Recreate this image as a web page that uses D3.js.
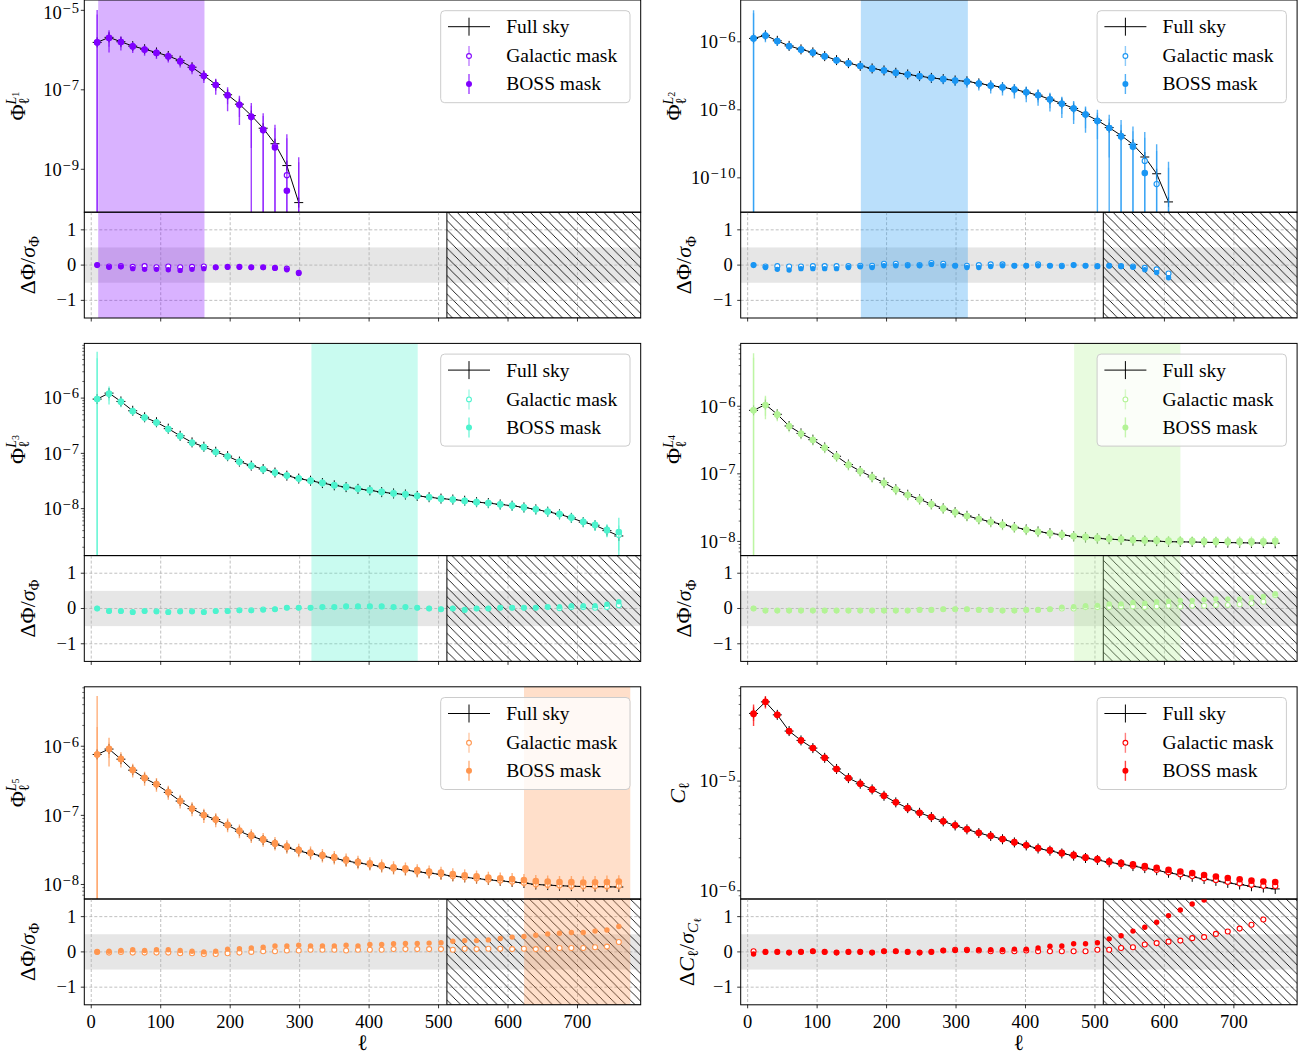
<!DOCTYPE html>
<html>
<head>
<meta charset="utf-8">
<script src="https://cdn.jsdelivr.net/npm/d3@7"></script>
<style>
  body { margin: 0; background: #fff; }
  svg { display: block; }
  text { font-family: "Liberation Serif", "DejaVu Serif", serif; fill: #000; }
</style>
</head>
<body>
<svg id="fig" width="1311" height="1055"></svg>
<script>
// Multipole bin centres (shared by every panel)
const ell = [8.5, 25.6, 42.7, 59.7, 76.8, 93.9, 110.9, 128.0, 145.1, 162.1,
  179.2, 196.3, 213.3, 230.4, 247.5, 264.5, 281.6, 298.7, 315.7, 332.8,
  349.9, 366.9, 384.0, 401.1, 418.1, 435.2, 452.3, 469.3, 486.4, 503.5,
  520.5, 537.6, 554.7, 571.7, 588.8, 605.9, 622.9, 640.0, 657.1, 674.1,
  691.2, 708.3, 725.3, 742.4, 759.5];

const xTicks = [0, 100, 200, 300, 400, 500, 600, 700];
const resTicks = [-1, 0, 1];
const seriesNames = ["Full sky", "Galactic mask", "BOSS mask"];
const ellMaxTrusted = 512;

// ---- Phi^{L1} ----
const phiL1 = [1.56e-6, 2.09e-6, 1.62e-6, 1.26e-6, 1.05e-6, 8.7e-7, 7.1e-7, 5.4e-7, 3.7e-7, 2.3e-7,
  1.36e-7, 7.5e-8, 4.35e-8, 2.25e-8, 1.08e-8, 4.4e-9, 1.24e-9, 1.45e-10];
const resGalL1 = [0.0, -0.04, -0.03, -0.05, -0.03, -0.06, -0.04, -0.06, -0.05, -0.04,
  -0.06, -0.05, -0.05, -0.06, -0.06, -0.08, -0.1, -0.22];
const resBossL1 = [0.0, -0.06, -0.05, -0.1, -0.12, -0.12, -0.13, -0.15, -0.12, -0.1,
  -0.07, -0.06, -0.06, -0.07, -0.07, -0.09, -0.13, -0.24];
const errGalL1 = [4.0, 0.4, 0.28, 0.2, 0.18, 0.18, 0.18, 0.18, 0.2, 0.22,
  0.3, 0.4, 0.5, 0.8, 1.1, 1.6, 4.3, 12];
const errBossL1 = [5.5, 0.55, 0.38, 0.3, 0.28, 0.28, 0.28, 0.28, 0.3, 0.32,
  0.42, 0.58, 0.66, 1.15, 1.5, 2.2, 5.9, 17];

// ---- Phi^{L2} ----
const phiL2 = [1.26e-6, 1.55e-6, 1.07e-6, 7.6e-7, 6.0e-7, 4.9e-7, 3.8e-7, 2.9e-7, 2.36e-7, 1.96e-7,
  1.65e-7, 1.44e-7, 1.23e-7, 1.10e-7, 9.8e-8, 8.7e-8, 8.0e-8, 7.3e-8, 6.9e-8, 6.0e-8,
  5.2e-8, 4.6e-8, 4.0e-8, 3.3e-8, 2.7e-8, 2.05e-8, 1.54e-8, 1.10e-8, 7.4e-9, 4.9e-9,
  3.0e-9, 1.77e-9, 9.6e-10, 4.1e-10, 1.32e-10, 1.96e-11];
const resGalL2 = [0, -0.04, -0.03, -0.04, -0.04, -0.03, -0.03, -0.03, -0.03, -0.02,
  -0.02, 0.04, 0.04, 0.0, 0.0, 0.06, 0.04, -0.02, -0.02, 0.0,
  0.02, 0.02, -0.02, -0.02, 0.02, -0.02, -0.02, 0.0, -0.02, -0.03,
  -0.02, -0.03, -0.04, -0.08, -0.12, -0.24];
const resBossL2 = [0, -0.07, -0.12, -0.14, -0.1, -0.1, -0.1, -0.1, -0.07, -0.05,
  -0.07, -0.02, -0.02, -0.02, -0.02, 0.02, -0.02, -0.02, -0.07, -0.07,
  -0.04, -0.02, -0.02, -0.02, -0.02, -0.02, -0.04, 0.0, -0.02, -0.04,
  -0.02, -0.04, -0.06, -0.13, -0.21, -0.36];
const errGalL2 = [4.5, 0.25, 0.18, 0.15, 0.14, 0.13, 0.13, 0.13, 0.13, 0.13,
  0.13, 0.14, 0.15, 0.16, 0.17, 0.18, 0.2, 0.22, 0.24, 0.26,
  0.28, 0.3, 0.33, 0.36, 0.4, 0.45, 0.5, 0.55, 0.6, 0.7,
  0.85, 1.1, 1.5, 2.9, 4.2, 12];
const errBossL2 = [5.7, 0.35, 0.26, 0.22, 0.2, 0.19, 0.19, 0.19, 0.19, 0.19,
  0.19, 0.2, 0.21, 0.22, 0.24, 0.26, 0.28, 0.3, 0.33, 0.36,
  0.4, 0.42, 0.45, 0.48, 0.5, 0.55, 0.6, 0.65, 0.7, 1.1,
  1.4, 1.9, 2.5, 5.1, 8, 22];

// ---- Phi^{L3} ----
const phiL3 = [9.6e-7, 1.23e-6, 8.7e-7, 5.9e-7, 4.5e-7, 3.66e-7, 2.8e-7, 2.08e-7, 1.58e-7, 1.32e-7,
  1.07e-7, 8.9e-8, 7.1e-8, 6.0e-8, 5.2e-8, 4.5e-8, 3.95e-8, 3.5e-8, 3.2e-8, 2.9e-8,
  2.64e-8, 2.45e-8, 2.28e-8, 2.14e-8, 1.99e-8, 1.88e-8, 1.80e-8, 1.70e-8, 1.61e-8, 1.52e-8,
  1.46e-8, 1.39e-8, 1.31e-8, 1.26e-8, 1.19e-8, 1.13e-8, 1.05e-8, 9.7e-9, 8.8e-9, 7.9e-9,
  6.8e-9, 5.7e-9, 5.0e-9, 4.0e-9, 3.2e-9];
const resGalL3 = [0, -0.07, -0.07, -0.1, -0.07, -0.08, -0.1, -0.08, -0.08, -0.1,
  -0.07, -0.07, -0.05, -0.05, -0.03, -0.02, 0.02, 0.02, 0.02, 0.04,
  0.04, 0.06, 0.06, 0.06, 0.06, 0.04, 0.04, 0.02, 0.0, -0.02,
  0.0, -0.04, 0.0, 0.0, 0.02, 0.02, 0.02, 0.02, 0.04, 0.01,
  0.04, 0.04, 0.02, 0.04, 0.09];
const resBossL3 = [0, -0.08, -0.08, -0.11, -0.08, -0.09, -0.11, -0.09, -0.09, -0.11,
  -0.08, -0.08, -0.06, -0.06, -0.04, -0.02, 0.02, 0.02, 0.02, 0.04,
  0.04, 0.06, 0.06, 0.06, 0.06, 0.04, 0.04, 0.02, 0.0, -0.02,
  0.0, -0.04, 0.0, 0.0, 0.02, 0.02, 0.02, 0.02, 0.04, 0.05,
  0.08, 0.08, 0.08, 0.12, 0.19];
const errGalL3 = [4.5, 0.25, 0.14, 0.12, 0.11, 0.1, 0.1, 0.1, 0.1, 0.1,
  0.1, 0.1, 0.1, 0.1, 0.1, 0.1, 0.1, 0.1, 0.1, 0.1,
  0.1, 0.1, 0.1, 0.1, 0.1, 0.1, 0.1, 0.1, 0.1, 0.1,
  0.1, 0.1, 0.11, 0.11, 0.12, 0.12, 0.13, 0.14, 0.15, 0.16,
  0.17, 0.18, 0.2, 0.24, 0.5];
const errBossL3 = [6.2, 0.35, 0.2, 0.17, 0.16, 0.16, 0.16, 0.16, 0.16, 0.16,
  0.16, 0.16, 0.16, 0.16, 0.16, 0.16, 0.16, 0.16, 0.16, 0.16,
  0.16, 0.16, 0.16, 0.16, 0.17, 0.17, 0.17, 0.17, 0.17, 0.17,
  0.18, 0.18, 0.18, 0.19, 0.19, 0.2, 0.2, 0.2, 0.2, 0.2,
  0.2, 0.21, 0.23, 0.27, 0.95];

// ---- Phi^{L4} ----
const phiL4 = [8.7e-7, 1.06e-6, 7.6e-7, 5.1e-7, 3.96e-7, 3.2e-7, 2.45e-7, 1.82e-7, 1.37e-7, 1.10e-7,
  9.0e-8, 7.4e-8, 5.9e-8, 4.9e-8, 4.2e-8, 3.56e-8, 3.08e-8, 2.7e-8, 2.39e-8, 2.15e-8,
  1.95e-8, 1.78e-8, 1.62e-8, 1.50e-8, 1.40e-8, 1.32e-8, 1.25e-8, 1.19e-8, 1.15e-8, 1.11e-8,
  1.08e-8, 1.06e-8, 1.03e-8, 1.02e-8, 1.01e-8, 9.9e-9, 9.85e-9, 9.8e-9, 9.7e-9, 9.65e-9,
  9.6e-9, 9.55e-9, 9.5e-9, 9.45e-9, 9.4e-9];
const resGalL4 = [0, -0.06, -0.06, -0.06, -0.06, -0.06, -0.06, -0.06, -0.06, -0.06,
  -0.06, -0.06, -0.06, -0.06, -0.04, -0.04, -0.02, -0.02, -0.02, -0.04,
  -0.04, -0.06, -0.06, -0.04, -0.04, -0.02, 0.0, 0.0, 0.04, 0.04,
  0.04, 0.06, 0.06, 0.04, 0.06, 0.08, 0.06, 0.08, 0.08, 0.1,
  0.1, 0.12, 0.15, 0.19, 0.38];
const resBossL4 = [0, -0.06, -0.06, -0.06, -0.06, -0.06, -0.06, -0.06, -0.06, -0.06,
  -0.06, -0.06, -0.06, -0.06, -0.04, -0.04, -0.02, -0.02, -0.02, -0.04,
  -0.04, -0.06, -0.06, -0.04, -0.04, -0.02, 0.04, 0.05, 0.08, 0.09,
  0.13, 0.13, 0.17, 0.15, 0.19, 0.21, 0.23, 0.23, 0.25, 0.27,
  0.27, 0.27, 0.31, 0.34, 0.42];
const errGalL4 = [5.0, 0.3, 0.14, 0.12, 0.11, 0.1, 0.1, 0.1, 0.1, 0.1,
  0.1, 0.1, 0.1, 0.1, 0.1, 0.1, 0.1, 0.1, 0.1, 0.1,
  0.1, 0.1, 0.1, 0.1, 0.1, 0.1, 0.1, 0.1, 0.1, 0.1,
  0.1, 0.1, 0.1, 0.1, 0.1, 0.11, 0.11, 0.11, 0.11, 0.11,
  0.12, 0.12, 0.12, 0.12, 0.13];
const errBossL4 = [6.0, 0.37, 0.2, 0.18, 0.17, 0.17, 0.17, 0.17, 0.17, 0.17,
  0.17, 0.17, 0.17, 0.17, 0.17, 0.17, 0.17, 0.17, 0.17, 0.17,
  0.17, 0.17, 0.17, 0.17, 0.17, 0.17, 0.17, 0.17, 0.17, 0.17,
  0.17, 0.17, 0.17, 0.17, 0.17, 0.18, 0.18, 0.18, 0.18, 0.18,
  0.18, 0.19, 0.19, 0.19, 0.2];

// ---- Phi^{L5} ----
const phiL5 = [7.6e-7, 9.1e-7, 6.5e-7, 4.5e-7, 3.45e-7, 2.8e-7, 2.15e-7, 1.61e-7, 1.25e-7, 1.01e-7,
  8.7e-8, 7.2e-8, 5.9e-8, 5.0e-8, 4.4e-8, 3.84e-8, 3.44e-8, 3.05e-8, 2.8e-8, 2.57e-8,
  2.4e-8, 2.2e-8, 2.05e-8, 1.94e-8, 1.81e-8, 1.69e-8, 1.62e-8, 1.53e-8, 1.46e-8, 1.40e-8,
  1.32e-8, 1.27e-8, 1.22e-8, 1.17e-8, 1.13e-8, 1.09e-8, 1.05e-8, 1.0e-8, 9.8e-9, 9.6e-9,
  9.45e-9, 9.35e-9, 9.3e-9, 9.25e-9, 9.2e-9];
const resGalL5 = [0, -0.02, 0, -0.02, -0.02, -0.02, -0.02, -0.04, -0.04, -0.06,
  -0.06, -0.04, -0.02, 0, 0.02, 0.02, 0.04, 0.04, 0.06, 0.06,
  0.06, 0.04, 0.06, 0.06, 0.06, 0.08, 0.08, 0.08, 0.08, 0.08,
  0.06, 0.09, 0.08, 0.09, 0.09, 0.08, 0.09, 0.08, 0.09, 0.11,
  0.11, 0.11, 0.13, 0.15, 0.28];
const resBossL5 = [0, 0.02, 0.04, 0.06, 0.04, 0.06, 0.06, 0.04, 0.02, 0,
  0.02, 0.08, 0.09, 0.11, 0.13, 0.17, 0.17, 0.19, 0.17, 0.17,
  0.17, 0.19, 0.17, 0.21, 0.21, 0.23, 0.24, 0.24, 0.25, 0.26,
  0.3, 0.32, 0.32, 0.34, 0.38, 0.42, 0.44, 0.47, 0.51, 0.53,
  0.55, 0.55, 0.59, 0.62, 0.72];
const errGalL5 = [1.5, 0.25, 0.13, 0.12, 0.12, 0.12, 0.12, 0.12, 0.12, 0.12,
  0.12, 0.12, 0.12, 0.12, 0.12, 0.12, 0.12, 0.12, 0.12, 0.12,
  0.12, 0.12, 0.12, 0.12, 0.12, 0.12, 0.12, 0.12, 0.12, 0.12,
  0.12, 0.12, 0.12, 0.12, 0.12, 0.12, 0.12, 0.12, 0.13, 0.13,
  0.13, 0.13, 0.14, 0.14, 0.14];
const errBossL5 = [6.0, 0.45, 0.25, 0.23, 0.23, 0.23, 0.23, 0.23, 0.23, 0.23,
  0.23, 0.23, 0.23, 0.23, 0.23, 0.23, 0.23, 0.23, 0.23, 0.23,
  0.23, 0.23, 0.23, 0.23, 0.23, 0.23, 0.23, 0.23, 0.23, 0.23,
  0.23, 0.23, 0.23, 0.23, 0.23, 0.24, 0.24, 0.25, 0.25, 0.25,
  0.26, 0.26, 0.27, 0.28, 0.28];

// ---- C_ell ----
const clFull = [4.14e-5, 5.28e-5, 4.02e-5, 2.86e-5, 2.35e-5, 2.0e-5, 1.63e-5, 1.29e-5, 1.065e-5, 9.46e-6,
  8.4e-6, 7.35e-6, 6.4e-6, 5.67e-6, 5.14e-6, 4.7e-6, 4.29e-6, 3.94e-6, 3.63e-6, 3.36e-6,
  3.16e-6, 2.95e-6, 2.76e-6, 2.59e-6, 2.43e-6, 2.32e-6, 2.19e-6, 2.09e-6, 1.99e-6, 1.91e-6,
  1.82e-6, 1.75e-6, 1.68e-6, 1.61e-6, 1.54e-6, 1.46e-6, 1.40e-6, 1.34e-6, 1.28e-6, 1.23e-6,
  1.18e-6, 1.14e-6, 1.10e-6, 1.07e-6, 1.04e-6];
const resGalCl = [0.02, 0, 0, -0.02, 0, 0.02, 0, -0.02, 0, 0,
  -0.02, 0.02, 0.02, 0, -0.02, 0, 0.04, 0.06, 0.06, 0.04,
  0.02, 0.02, 0.02, 0.04, 0.02, 0.02, 0.02, 0.02, 0.02, 0.06,
  0.06, 0.11, 0.13, 0.21, 0.25, 0.29, 0.32, 0.39, 0.42, 0.51,
  0.58, 0.66, 0.77, 0.92, 1.6];
const resBossCl = [-0.06, 0, 0, -0.02, 0, 0.02, 0, -0.02, 0, 0,
  -0.02, 0.02, 0.02, 0, -0.02, 0, 0.04, 0.04, 0.04, 0.06,
  0.06, 0.06, 0.08, 0.08, 0.11, 0.16, 0.17, 0.23, 0.23, 0.26,
  0.37, 0.46, 0.59, 0.7, 0.84, 1.03, 1.19, 1.36, 1.47, 1.62,
  1.78, 1.93, 2.08, 2.25, 2.6];
const errGalCl = [0.15, 0.1, 0.06, 0.05, 0.04, 0.04, 0.04, 0.04, 0.04, 0.04,
  0.04, 0.04, 0.04, 0.04, 0.04, 0.04, 0.04, 0.04, 0.04, 0.04,
  0.04, 0.04, 0.04, 0.04, 0.04, 0.04, 0.04, 0.04, 0.04, 0.04,
  0.04, 0.04, 0.04, 0.04, 0.04, 0.04, 0.04, 0.04, 0.04, 0.04,
  0.04, 0.04, 0.04, 0.04, 0.04];
const errBossCl = [0.22, 0.13, 0.08, 0.07, 0.07, 0.07, 0.07, 0.07, 0.07, 0.07,
  0.07, 0.07, 0.07, 0.07, 0.07, 0.07, 0.07, 0.07, 0.07, 0.07,
  0.07, 0.07, 0.07, 0.07, 0.07, 0.07, 0.07, 0.07, 0.07, 0.07,
  0.06, 0.06, 0.06, 0.06, 0.06, 0.06, 0.06, 0.06, 0.06, 0.06,
  0.06, 0.06, 0.06, 0.06, 0.06];

// Filter windows (ell ranges) highlighted in each panel
const bandL1 = [10, 163], bandL2 = [163, 317], bandL3 = [317, 470], bandL4 = [470, 623], bandL5 = [623, 776];

// ---------------- layout ----------------
const colX = [84.3, 740.7], colW = 556.4;
const rowTop = [0, 343.4, 686.8], mainH = 212.2, resH = 105.8;
const xDomain = [-10, 791];
const hatchPhase = [6.3, 2.0];

const panels = [
  {col: 0, row: 0, color: "#8000ff", full: phiL1, rg: resGalL1, rb: resBossL1, eg: errGalL1, eb: errBossL1, band: bandL1,
   ylog: [-10.08, -4.74], majors: [-9, -7, -5], minors: false, lab: "1", cl: false},
  {col: 1, row: 0, color: "#1a96f3", full: phiL2, rg: resGalL2, rb: resBossL2, eg: errGalL2, eb: errBossL2, band: bandL2,
   ylog: [-11.01, -4.77], majors: [-10, -8, -6], minors: false, lab: "2", cl: false},
  {col: 0, row: 1, color: "#4df3ce", full: phiL3, rg: resGalL3, rb: resBossL3, eg: errGalL3, eb: errBossL3, band: bandL3,
   ylog: [-8.85, -5.01], majors: [-8, -7, -6], minors: true, lab: "3", cl: false},
  {col: 1, row: 1, color: "#b3f396", full: phiL4, rg: resGalL4, rb: resBossL4, eg: errGalL4, eb: errBossL4, band: bandL4,
   ylog: [-8.21, -5.07], majors: [-8, -7, -6], minors: true, lab: "4", cl: false},
  {col: 0, row: 2, color: "#ff964f", full: phiL5, rg: resGalL5, rb: resBossL5, eg: errGalL5, eb: errBossL5, band: bandL5,
   ylog: [-8.21, -5.14], majors: [-8, -7, -6], minors: true, lab: "5", cl: false},
  {col: 1, row: 2, color: "#ff0000", full: clFull, rg: resGalCl, rb: resBossCl, eg: errGalCl, eb: errBossCl, band: null,
   ylog: [-6.075, -4.14], majors: [-6, -5], minors: true, lab: null, cl: true}
];

const svg = d3.select("#fig");
const defs = svg.append("defs");

// Typeset a small math expression from pieces; "stack" places a piece at the previous piece's x.
function mathPieces(parent, pieces) {
  const g = parent.append("g");
  let px = 0, pw = 0;
  pieces.forEach(p => {
    const xx = p.stack ? px : px + pw;
    const t = g.append("text").attr("x", xx).attr("y", p.dy || 0)
      .attr("font-size", p.fs).text(p.t);
    if (p.it) t.attr("font-style", "italic");
    px = xx; pw = t.node().getComputedTextLength();
  });
  return g;
}
// Rotated axis label: text baseline runs along screen x = bx, centred vertically on cy.
function rotatedLabel(parent, bx, cy, pieces) {
  const outer = parent.append("g").attr("transform", `translate(${bx},${cy}) rotate(-90)`);
  const inner = mathPieces(outer, pieces);
  const bb = inner.node().getBBox();
  inner.attr("transform", `translate(${-bb.x - bb.width / 2},0)`);
}

panels.forEach((P, pi) => {
  const x0 = colX[P.col], top = rowTop[P.row];
  const n = P.full.length;
  const L = ell.slice(0, n);
  const x = d3.scaleLinear().domain(xDomain).range([0, colW]);
  const y = d3.scaleLog().domain([Math.pow(10, P.ylog[0]), Math.pow(10, P.ylog[1])]).range([mainH, 0]);
  const yr = d3.scaleLinear().domain([-1.5, 1.5]).range([resH, 0]);

  const galV = P.full.map((v, i) => v * (1 + P.rg[i] * P.eg[i]));
  const galS = P.full.map((v, i) => v * P.eg[i]);
  const bossV = P.full.map((v, i) => v * (1 + P.rb[i] * P.eb[i]));
  const bossS = P.full.map((v, i) => v * P.eb[i]);

  defs.append("clipPath").attr("id", "cm" + pi).append("rect")
    .attr("width", colW).attr("height", mainH);
  defs.append("clipPath").attr("id", "cr" + pi).append("rect")
    .attr("width", colW).attr("height", resH);

  // ---------- main panel ----------
  const gm = svg.append("g").attr("transform", `translate(${x0},${top})`);
  const pm = gm.append("g").attr("clip-path", `url(#cm${pi})`);
  if (P.band) {
    pm.append("rect").attr("x", x(P.band[0])).attr("width", x(P.band[1]) - x(P.band[0]))
      .attr("y", 0).attr("height", mainH).attr("fill", P.color).attr("fill-opacity", 0.3);
  }
  // full-sky curve with cross markers (underneath the masked measurements)
  pm.append("path").attr("d", d3.line().x((v, i) => x(L[i])).y(v => y(v))(P.full))
    .attr("fill", "none").attr("stroke", "#000").attr("stroke-width", 1);
  const cross = pm.append("g").selectAll("g").data(P.full).join("g")
    .attr("transform", (v, i) => `translate(${x(L[i])},${y(v)})`);
  cross.append("line").attr("x1", -4.5).attr("x2", 4.5).attr("stroke", "#000").attr("stroke-width", 1);
  cross.append("line").attr("y1", -5).attr("y2", 5).attr("stroke", "#000").attr("stroke-width", 1);

  const yClamp = v => v > 0 ? y(v) : mainH + 20;
  function errBars(vals, sig, op) {
    pm.append("g").selectAll("line").data(L.map((l, i) => i).filter(i => vals[i] + sig[i] > 0)).join("line")
      .attr("x1", i => x(L[i])).attr("x2", i => x(L[i]))
      .attr("y1", i => yClamp(vals[i] - sig[i])).attr("y2", i => yClamp(vals[i] + sig[i]))
      .attr("stroke", P.color).attr("stroke-opacity", op).attr("stroke-width", 1.4);
  }
  errBars(galV, galS, 0.5);
  pm.append("g").selectAll("circle").data(L.map((l, i) => i).filter(i => galV[i] > 0)).join("circle")
    .attr("cx", i => x(L[i])).attr("cy", i => y(galV[i])).attr("r", 2.6)
    .attr("fill", "#fff").attr("stroke", P.color).attr("stroke-width", 1.1);
  errBars(bossV, bossS, 0.75);
  pm.append("g").selectAll("circle").data(L.map((l, i) => i).filter(i => bossV[i] > 0)).join("circle")
    .attr("cx", i => x(L[i])).attr("cy", i => y(bossV[i])).attr("r", 3.3)
    .attr("fill", P.color);

  // y axis of main panel
  const ax = gm.append("g");
  if (P.minors) {
    const mt = [];
    for (let k = Math.floor(P.ylog[0]); k <= Math.ceil(P.ylog[1]); k++) {
      for (let m = 2; m <= 9; m++) {
        const lv = k + Math.log10(m);
        if (lv > P.ylog[0] && lv < P.ylog[1]) mt.push(Math.pow(10, lv));
      }
    }
    ax.selectAll(".mn").data(mt).join("line").attr("x1", -2).attr("x2", 0)
      .attr("y1", v => y(v)).attr("y2", v => y(v)).attr("stroke", "#000").attr("stroke-width", 0.6);
  }
  P.majors.forEach(k => {
    const yy = y(Math.pow(10, k));
    ax.append("line").attr("x1", -3.5).attr("x2", 0).attr("y1", yy).attr("y2", yy)
      .attr("stroke", "#000").attr("stroke-width", 0.8);
    // keep the exponent of a label at the very top inside the figure
    const base = Math.max(yy + 6.3, 19 - top);
    const t = ax.append("text").attr("x", -4).attr("y", base).attr("text-anchor", "end").attr("font-size", 18.5);
    t.append("tspan").text("10");
    t.append("tspan").attr("dy", -6).attr("dx", 0.8).attr("font-size", 14.5)
      .attr("letter-spacing", 1.2).text("\u2212" + Math.abs(k));
  });
  gm.append("rect").attr("width", colW).attr("height", mainH).attr("fill", "none")
    .attr("stroke", "#000").attr("stroke-width", 1);

  // legend
  const lg = gm.append("g").attr("transform", `translate(356.4,10.7)`);
  lg.append("rect").attr("width", 189.3).attr("height", 92).attr("rx", 4)
    .attr("fill", "#fff").attr("fill-opacity", 0.8).attr("stroke", "#cccccc").attr("stroke-width", 1);
  const rowsY = [16, 45.3, 73.3];
  const hx = 28.3, tx = 65.5;
  lg.append("line").attr("x1", hx - 21).attr("x2", hx + 21).attr("y1", rowsY[0]).attr("y2", rowsY[0])
    .attr("stroke", "#000").attr("stroke-width", 1);
  lg.append("line").attr("x1", hx).attr("x2", hx).attr("y1", rowsY[0] - 9).attr("y2", rowsY[0] + 9)
    .attr("stroke", "#000").attr("stroke-width", 1);
  lg.append("line").attr("x1", hx).attr("x2", hx).attr("y1", rowsY[1] - 10).attr("y2", rowsY[1] + 10)
    .attr("stroke", P.color).attr("stroke-opacity", 0.5).attr("stroke-width", 1.4);
  lg.append("circle").attr("cx", hx).attr("cy", rowsY[1]).attr("r", 2.4)
    .attr("fill", "#fff").attr("stroke", P.color).attr("stroke-width", 1.1);
  lg.append("line").attr("x1", hx).attr("x2", hx).attr("y1", rowsY[2] - 10).attr("y2", rowsY[2] + 10)
    .attr("stroke", P.color).attr("stroke-opacity", 0.75).attr("stroke-width", 1.4);
  lg.append("circle").attr("cx", hx).attr("cy", rowsY[2]).attr("r", 3).attr("fill", P.color);
  seriesNames.forEach((s, i) => {
    lg.append("text").attr("x", tx).attr("y", rowsY[i] + 6.5).attr("font-size", 19.5).text(s);
  });

  // main y label
  if (P.cl) {
    rotatedLabel(svg, x0 - 56, top + mainH / 2, [
      {t: "C", fs: 22, it: true}, {t: "\u2113", fs: 15, dy: 4.5}]);
  } else {
    rotatedLabel(svg, x0 - 59.5, top + mainH / 2, [
      {t: "\u03A6", fs: 22}, {t: "\u2113", fs: 15, dy: 4.5},
      {t: "L", fs: 14, dy: -8.5, it: true, stack: true}, {t: P.lab, fs: 10, dy: -6}]);
  }

  // ---------- residual panel ----------
  const gr = svg.append("g").attr("transform", `translate(${x0},${top + mainH})`);
  const pr = gr.append("g").attr("clip-path", `url(#cr${pi})`);
  pr.append("rect").attr("x", 0).attr("width", colW).attr("y", yr(0.5)).attr("height", yr(-0.5) - yr(0.5))
    .attr("fill", "#e6e6e6");
  // dashed grid
  pr.append("g").selectAll("line").data(xTicks).join("line")
    .attr("x1", d => x(d)).attr("x2", d => x(d)).attr("y1", 0).attr("y2", resH)
    .attr("stroke", "#b0b0b0").attr("stroke-width", 0.8).attr("stroke-dasharray", "3,2");
  pr.append("g").selectAll("line").data(resTicks).join("line")
    .attr("x1", 0).attr("x2", colW).attr("y1", d => yr(d)).attr("y2", d => yr(d))
    .attr("stroke", "#b0b0b0").attr("stroke-width", 0.8).attr("stroke-dasharray", "3,2");
  // hatched region beyond the trusted multipole range
  const s = 9.17;
  const ph = (((hatchPhase[P.col] - x0 + (top + mainH)) % s) + s) % s;
  const pat = defs.append("pattern").attr("id", "hatch" + pi).attr("patternUnits", "userSpaceOnUse")
    .attr("x", ph).attr("y", 0).attr("width", s).attr("height", s);
  pat.append("path").attr("d", `M0,0L${s},${s}M-2,${s - 2}L2,${s + 2}M${s - 2},-2L${s + 2},2`)
    .attr("stroke", "#000").attr("stroke-width", 0.85).attr("fill", "none");
  pr.append("rect").attr("x", x(ellMaxTrusted)).attr("width", colW - x(ellMaxTrusted) + 2)
    .attr("y", 0).attr("height", resH).attr("fill", `url(#hatch${pi})`)
    .attr("stroke", "#000").attr("stroke-width", 1);
  if (P.band) {
    pr.append("rect").attr("x", x(P.band[0])).attr("width", x(P.band[1]) - x(P.band[0]))
      .attr("y", 0).attr("height", resH).attr("fill", P.color).attr("fill-opacity", 0.3);
  }
  pr.append("g").selectAll("circle").data(P.rg).join("circle")
    .attr("cx", (v, i) => x(L[i])).attr("cy", v => yr(v)).attr("r", 2.5)
    .attr("fill", "#fff").attr("stroke", P.color).attr("stroke-width", 1.1);
  pr.append("g").selectAll("circle").data(P.rb).join("circle")
    .attr("cx", (v, i) => x(L[i])).attr("cy", v => yr(v)).attr("r", 2.7)
    .attr("fill", P.color);

  // residual axes
  const ra = gr.append("g");
  resTicks.forEach(v => {
    ra.append("line").attr("x1", -3.5).attr("x2", 0).attr("y1", yr(v)).attr("y2", yr(v))
      .attr("stroke", "#000").attr("stroke-width", 0.8);
    ra.append("text").attr("x", -8).attr("y", yr(v) + 6).attr("text-anchor", "end")
      .attr("font-size", 18.5).text(v < 0 ? "\u2212" + Math.abs(v) : String(v));
  });
  xTicks.forEach(v => {
    ra.append("line").attr("x1", x(v)).attr("x2", x(v)).attr("y1", resH).attr("y2", resH + 3.5)
      .attr("stroke", "#000").attr("stroke-width", 0.8);
    if (P.row === 2) {
      ra.append("text").attr("x", x(v)).attr("y", resH + 23).attr("text-anchor", "middle")
        .attr("font-size", 18.5).text(v);
    }
  });
  gr.append("rect").attr("width", colW).attr("height", resH).attr("fill", "none")
    .attr("stroke", "#000").attr("stroke-width", 1);
  if (P.row === 2) {
    gr.append("text").attr("x", colW / 2).attr("y", resH + 45).attr("text-anchor", "middle")
      .attr("font-size", 22).text("\u2113");
  }

  if (P.cl) {
    rotatedLabel(svg, x0 - 47, top + mainH + resH / 2, [
      {t: "\u0394", fs: 22}, {t: "C", fs: 22, it: true}, {t: "\u2113", fs: 15, dy: 4.5},
      {t: "/", fs: 22}, {t: "\u03C3", fs: 22, it: true}, {t: "C", fs: 15, dy: 4.5, it: true},
      {t: "\u2113", fs: 10.5, dy: 7.5}]);
  } else {
    rotatedLabel(svg, x0 - 49.5, top + mainH + resH / 2, [
      {t: "\u0394\u03A6/", fs: 22}, {t: "\u03C3", fs: 22, it: true}, {t: "\u03A6", fs: 15, dy: 4.5}]);
  }
});
</script>
</body>
</html>
